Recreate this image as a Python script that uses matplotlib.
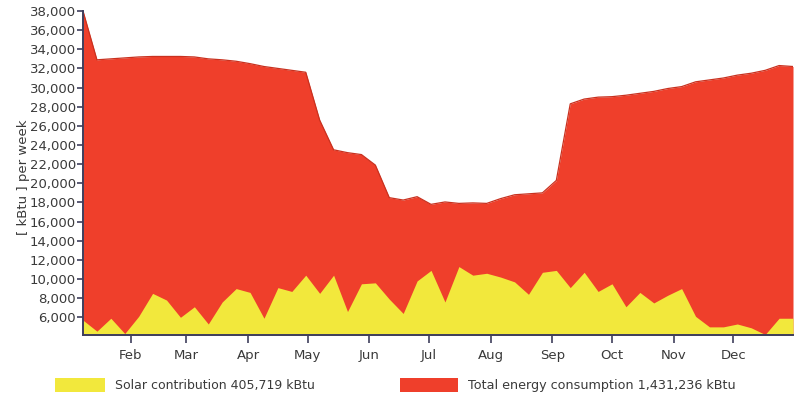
import matplotlib
matplotlib.use("Agg")
import matplotlib.pyplot as plt
from matplotlib.patches import Rectangle
from matplotlib.ticker import FuncFormatter

# Weekly energy balance over one year (values in kBtu per week)
weeks = list(range(1, 53))
total_energy = [
    38000, 32900, 33000, 33100, 33200, 33250, 33250, 33250, 33200, 33000,
    32900, 32750, 32500, 32200, 32000, 31800, 31600, 26600, 23500, 23200,
    23000, 21900, 18500, 18250, 18600, 17800, 18050, 17900, 17950, 17900,
    18400, 18800, 18900, 19000, 20300, 28300, 28800, 29000, 29050, 29200,
    29400, 29600, 29900, 30100, 30600, 30800, 31000, 31300, 31500, 31800,
    32300, 32200,
]
solar = [
    5700, 4550, 5900, 4300, 6100, 8500, 7800, 6000, 7100, 5300,
    7600, 9000, 8600, 5900, 9100, 8700, 10400, 8500, 10400, 6600,
    9500, 9600, 7900, 6400, 9800, 10900, 7600, 11300, 10400, 10600,
    10200, 9700, 8400, 10700, 10900, 9100, 10700, 8700, 9500, 7100,
    8600, 7500, 8300, 9000, 6100, 5000, 5000, 5300, 4900, 4200,
    5900, 5900,
]
month_labels = ["Feb", "Mar", "Apr", "May", "Jun", "Jul", "Aug", "Sep", "Oct", "Nov", "Dec"]
month_start_day = [31, 59, 90, 120, 151, 181, 212, 243, 273, 304, 334]
yticks = list(range(6000, 38001, 2000))

solar_label = "Solar contribution 405,719 kBtu"
total_label = "Total energy consumption 1,431,236 kBtu"

RED = "#EF3F2B"
RED_EDGE = "#C9311F"
YELLOW = "#F2E83C"
AXIS = "#3E3E5C"
TEXT = "#3A3A3A"

days = [7 * w for w in weeks]
baseline = 4150

W, H = 798, 398
fig = plt.figure(figsize=(W / 100, H / 100), dpi=100)
ax = fig.add_axes([83 / W, (H - 335) / H, (793 - 83) / W, (335 - 11) / H])

ax.fill_between(days, baseline, total_energy, color=RED, linewidth=0, zorder=2)
ax.plot(days, total_energy, color=RED_EDGE, linewidth=0.9, zorder=3)
ax.fill_between(days, baseline, solar, color=YELLOW, linewidth=0, zorder=4)

ax.set_xlim(7, 364)
ax.set_ylim(baseline, 38000)

ax.set_yticks(yticks)
ax.yaxis.set_major_formatter(FuncFormatter(lambda v, p: f"{int(v):,}"))
ax.set_xticks(month_start_day)
ax.set_xticklabels(month_labels)

for s in ("top", "right"):
    ax.spines[s].set_visible(False)
for s in ("left", "bottom"):
    ax.spines[s].set_color(AXIS)
    ax.spines[s].set_linewidth(1.4)
    ax.spines[s].set_zorder(5)

ax.tick_params(axis="y", direction="out", length=4, width=1.2, color=AXIS,
               labelsize=9.5, labelcolor=TEXT, pad=1)
ax.tick_params(axis="x", direction="out", length=6, width=1.2, color=AXIS,
               labelsize=9.5, labelcolor=TEXT, pad=4)

ax.set_ylabel("[ kBtu ] per week", fontsize=9.5, color=TEXT)
ax.yaxis.set_label_coords((30 - 83) / (793 - 83), (335 - 177) / (335 - 11))

# Legend row below the plot
fig.patches.append(Rectangle((55 / W, (H - 392) / H), 50 / W, 14 / H,
                             transform=fig.transFigure, facecolor=YELLOW,
                             edgecolor="none"))
fig.text(115 / W, (H - 385) / H, solar_label, fontsize=9, color=TEXT, va="center")
fig.patches.append(Rectangle((400 / W, (H - 392) / H), 58 / W, 14 / H,
                             transform=fig.transFigure, facecolor=RED,
                             edgecolor="none"))
fig.text(468 / W, (H - 385) / H, total_label, fontsize=9.2, color=TEXT, va="center")

fig.savefig("out.png", dpi=100)
